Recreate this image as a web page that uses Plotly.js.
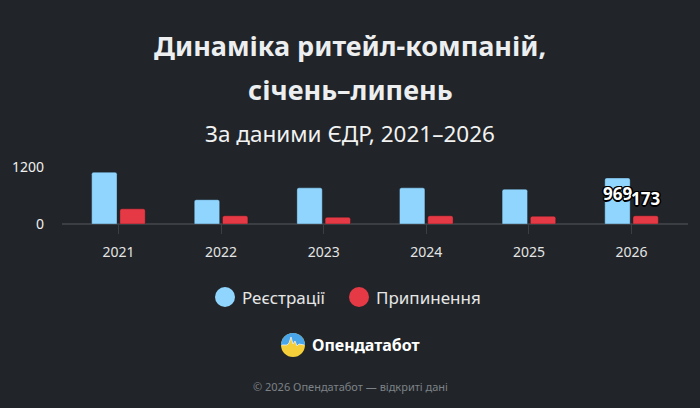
<!DOCTYPE html>
<html>
<head>
<meta charset="utf-8">
<script src="https://cdn.plot.ly/plotly-3.0.1.min.js"></script>
<style>
html,body{margin:0;padding:0;background:#212529;}
#chart{width:700px;height:408px;}
</style>
</head>
<body>
<div id="chart"></div>
<script>
// ---- data ----
const years = ["2021", "2022", "2023", "2024", "2025", "2026"];
const registrations = [1090, 511, 761, 761, 732, 969];
const terminations = [319, 173, 142, 173, 163, 173];
const seriesNames = ["Реєстрації", "Припинення"];
const yTicks = [0, 1200];
const labelledYear = "2026";

// ---- style ----
const BG = "#212529";
const BLUE = "#8fd5fe";
const RED = "#e63946";
const FONT = "Noto Sans, Open Sans, sans-serif";

// plot area in pixels
const L = 62, R = 12, T = 167, B = 184, W = 700, H = 408;
const PW = W - L - R, PH = H - T - B;
const py = y => (H - B - y) / PH;      // pixel y -> paper y
const px = x => (x - L) / PW;          // pixel x -> paper x

const traces = [
  {
    type: "bar", name: seriesNames[0], x: years, y: registrations,
    marker: {color: BLUE, line: {color: "rgba(20,30,40,0.35)", width: 1}, cornerradius: 2},
    showlegend: false, hoverinfo: "x+y"
  },
  {
    type: "bar", name: seriesNames[1], x: years, y: terminations,
    marker: {color: RED, line: {color: "rgba(20,20,20,0.35)", width: 1}, cornerradius: 2},
    showlegend: false, hoverinfo: "x+y"
  }
];

const outline = "-1px -1px 0 #000, 1px -1px 0 #000, -1px 1px 0 #000, 1px 1px 0 #000, " +
                "0 -1.5px 0 #000, 0 1.5px 0 #000, -1.5px 0 0 #000, 1.5px 0 0 #000";
const li = years.indexOf(labelledYear);

const annotations = [
  {text: "<b>Динаміка ритейл-компаній,</b>", x: px(350), xref: "paper", y: py(45), yref: "paper",
   showarrow: false, xanchor: "center", yanchor: "middle", font: {family: FONT, size: 27, color: "#eceef0"}},
  {text: "<b>січень–липень</b>", x: px(350), xref: "paper", y: py(90), yref: "paper",
   showarrow: false, xanchor: "center", yanchor: "middle", font: {family: FONT, size: 27, color: "#eceef0"}},
  {text: "За даними ЄДР, 2021–2026", x: px(350), xref: "paper", y: py(133), yref: "paper",
   showarrow: false, xanchor: "center", yanchor: "middle", font: {family: FONT, size: 22.5, color: "#f2f2f2"}},
  // value labels
  {text: "<b>" + registrations[li] + "</b>", x: li, y: registrations[li], xref: "x", yref: "y",
   xshift: -14, yshift: -16, showarrow: false, xanchor: "center", yanchor: "middle",
   font: {family: FONT, size: 17, color: "#ffffff", shadow: outline}},
  {text: "<b>" + terminations[li] + "</b>", x: li, y: terminations[li], xref: "x", yref: "y",
   xshift: 14, yshift: 17, showarrow: false, xanchor: "center", yanchor: "middle",
   font: {family: FONT, size: 17, color: "#ffffff", shadow: outline}},
  // legend texts
  {text: seriesNames[0], x: px(240), xref: "paper", y: py(297), yref: "paper",
   showarrow: false, xanchor: "left", yanchor: "middle", font: {family: FONT, size: 17, color: "#e6e6e6"}},
  {text: seriesNames[1], x: px(374), xref: "paper", y: py(297), yref: "paper",
   showarrow: false, xanchor: "left", yanchor: "middle", font: {family: FONT, size: 17, color: "#e6e6e6"}},
  // logo text
  {text: "<b>Опендатабот</b>", x: px(310), xref: "paper", y: py(345), yref: "paper",
   showarrow: false, xanchor: "left", yanchor: "middle", font: {family: FONT, size: 16, color: "#ffffff"}},
  // footer
  {text: "© 2026 Опендатабот — відкриті дані", x: px(350), xref: "paper", y: py(386), yref: "paper",
   showarrow: false, xanchor: "center", yanchor: "middle", font: {family: FONT, size: 11, color: "#7d8287"}}
];

// logo icon geometry (decorative)
function halfTop(r) {
  let pts = [];
  for (let i = 0; i <= 24; i++) {
    const a = Math.PI * i / 24;
    pts.push([r * Math.cos(a), r * Math.sin(a)]);
  }
  const jag = [[-12, 0], [-6, 0], [-4, 2], [-2, 8], [0, 1], [2, 4], [4, -1], [6, 1], [12, 0]];
  let d = "M" + pts.map(p => p[0].toFixed(2) + "," + p[1].toFixed(2)).join("L");
  d += "L" + jag.map(p => p[0] + "," + p[1]).join("L") + "Z";
  return d;
}

const shapes = [
  {type: "circle", xref: "paper", yref: "paper", xsizemode: "pixel", ysizemode: "pixel",
   xanchor: px(225), yanchor: py(297), x0: -10, x1: 10, y0: -10, y1: 10,
   fillcolor: BLUE, line: {width: 0}},
  {type: "circle", xref: "paper", yref: "paper", xsizemode: "pixel", ysizemode: "pixel",
   xanchor: px(359), yanchor: py(297), x0: -10, x1: 10, y0: -10, y1: 10,
   fillcolor: RED, line: {width: 0}},
  {type: "circle", xref: "paper", yref: "paper", xsizemode: "pixel", ysizemode: "pixel",
   xanchor: px(293), yanchor: py(345), x0: -12, x1: 12, y0: -12, y1: 12,
   fillcolor: "#f4cf3a", line: {width: 0}},
  {type: "path", xref: "paper", yref: "paper", xsizemode: "pixel", ysizemode: "pixel",
   xanchor: px(293), yanchor: py(345), path: halfTop(12),
   fillcolor: "#4aa6ea", line: {width: 0}},
  {type: "path", xref: "paper", yref: "paper", xsizemode: "pixel", ysizemode: "pixel",
   xanchor: px(293), yanchor: py(345), path: "M-11,0L-6,0L-4,2L-2,8L0,1L2,4L4,-1L6,1L11,0",
   line: {width: 1, color: "rgba(235,240,245,0.8)"}}
];

const layout = {
  width: W, height: H,
  margin: {l: L, r: R, t: T, b: B, pad: 0},
  paper_bgcolor: BG, plot_bgcolor: BG,
  font: {family: FONT, color: "#e6e6e6"},
  barmode: "group", bargap: 0.45, bargroupgap: 0.1,
  showlegend: false,
  xaxis: {
    type: "category", range: [-0.55, 5.55], fixedrange: true,
    ticks: "outside", ticklen: 9, tickcolor: "#3b3f44", tickwidth: 1,
    tickfont: {family: FONT, size: 14, color: "#e4e4e4"},
    ticklabelstandoff: 6,
    showgrid: false, showline: false, zeroline: false
  },
  yaxis: {
    range: [0, 1200], tickvals: yTicks, ticktext: yTicks.map(String), fixedrange: true,
    tickfont: {family: FONT, size: 14, color: "#f0f0f0"},
    showgrid: true, gridcolor: "#4a4e53", gridwidth: 1.5,
    zeroline: true, zerolinecolor: "#3b3f44", zerolinewidth: 1.5,
    showline: false, ticks: "", ticklabelstandoff: 17
  },
  annotations: annotations,
  shapes: shapes
};

Plotly.newPlot("chart", traces, layout, {displayModeBar: false, staticPlot: true});
</script>
</body>
</html>
